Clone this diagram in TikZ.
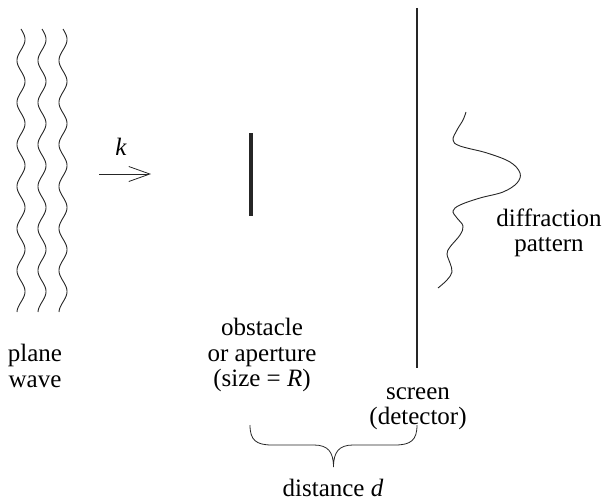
\documentclass[tikz,border=0pt]{standalone}
\usepackage{fontspec}
\setmainfont{Liberation Serif}
\usetikzlibrary{arrows.meta}
\begin{document}
\begin{tikzpicture}[x=1pt,y=-1pt,
  lbl/.style={align=center,inner sep=0pt,font=\fontsize{25}{25.5}\selectfont},
  wavy/.style={line width=0.9pt,black!85},
  thin/.style={line width=0.8pt,black!85}]
\useasboundingbox (0,0) rectangle (612,503);
% plane waves
\foreach \c in {21,42,63}{
  \draw[wavy] plot[domain=0:283,samples=240,smooth] ({\c+4*sin(8.5714*\x)},{29+\x});
}
\node[lbl] (plane) at (35,366) {plane\\wave};
% arrow
\coordinate (a1) at (99,174);
\coordinate (a2) at (151,174);
\draw[thin,-{Straight Barb[length=21pt,width=15pt,line width=0.8pt]}] (a1) -- (a2);
\node[lbl,font=\fontsize{25}{25.5}\selectfont\itshape] (k) at (121,147) {k};
% obstacle
\coordinate (o1) at (250.5,133);
\coordinate (o2) at (250.5,216);
\draw[line width=4pt,black!85] (o1) -- (o2);
\node[lbl] (obst) at (262,355) {obstacle\\or aperture\\(size = \textit{R})};
% screen
\coordinate (s1) at (417,8);
\coordinate (s2) at (417,368);
\draw[line width=2pt,black!85] (s1) -- (s2);
\node[lbl] (scr) at (418,409) {screen\\(detector)};
% diffraction pattern
\draw[wavy] plot[smooth,tension=0.6] coordinates {(466,112) (463,120) (457,130) (453,140) (460,146) (487,153) (510,162) (520,173) (517,183) (503,192) (480,198) (460,205) (453,211) (457,218) (463,226) (460,235) (450,247) (447,254) (450,263) (452,272) (447,280) (438,288)};
\node[lbl] (diff) at (549,233) {diffraction\\pattern};
% brace
\coordinate (b1) at (250,425);
\coordinate (b2) at (417,425);
\coordinate (bt) at (333.5,467);
\draw[thin] (b1) .. controls (250,440) and (256,445) .. (272,445)
  -- (314,445) .. controls (328,445) and (333.5,452) .. (bt)
  .. controls (333.5,452) and (339,445) .. (353,445)
  -- (395,445) .. controls (411,445) and (417,440) .. (b2);
\node[lbl] (dist) at (333,488) {distance \textit{d}};
\end{tikzpicture}
\end{document}
